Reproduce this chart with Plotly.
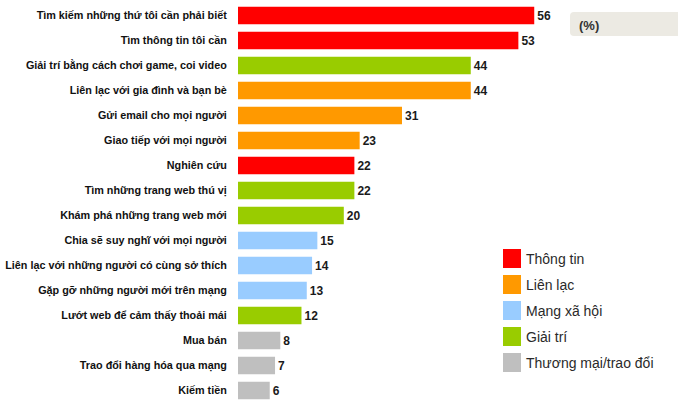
import plotly.graph_objects as go

# Activities, top to bottom, with share of respondents (%) and activity group
activities = [
    "Tìm kiếm những thứ tôi cần phải biết",
    "Tìm thông tin tôi cần",
    "Giải trí bằng cách chơi game, coi video",
    "Liên lạc với gia đình và bạn bè",
    "Gửi email cho mọi người",
    "Giao tiếp với mọi người",
    "Nghiên cứu",
    "Tìm những trang web thú vị",
    "Khám phá những trang web mới",
    "Chia sẽ suy nghĩ với mọi người",
    "Liên lạc với những người có cùng sở thích",
    "Gặp gỡ những người mới trên mạng",
    "Lướt web để cảm thấy thoải mái",
    "Mua bán",
    "Trao đổi hàng hóa qua mạng",
    "Kiếm tiền",
]
values = [56, 53, 44, 44, 31, 23, 22, 22, 20, 15, 14, 13, 12, 8, 7, 6]
groups = [
    "Thông tin", "Thông tin", "Giải trí", "Liên lạc", "Liên lạc", "Liên lạc",
    "Thông tin", "Giải trí", "Giải trí", "Mạng xã hội", "Mạng xã hội",
    "Mạng xã hội", "Giải trí", "Thương mại/trao đổi", "Thương mại/trao đổi",
    "Thương mại/trao đổi",
]

group_names = ["Thông tin", "Liên lạc", "Mạng xã hội", "Giải trí", "Thương mại/trao đổi"]
group_colors = {
    "Thông tin": "#FF0000",
    "Liên lạc": "#FF9900",
    "Mạng xã hội": "#99CCFF",
    "Giải trí": "#99CC00",
    "Thương mại/trao đổi": "#BFBFBF",
}

W, H = 678, 403
ML, MR, MT, MB = 238, 6, 3, 0
PW, PH = W - ML - MR, H - MT - MB


def px_x(p):
    return (p - ML) / PW


def px_y(p):
    return (H - MB - p) / PH


fig = go.Figure(
    go.Bar(
        x=values,
        y=activities,
        orientation="h",
        marker=dict(color=[group_colors[g] for g in groups], line=dict(width=0)),
        text=[str(v) for v in values],
        textposition="outside",
        cliponaxis=False,
        textfont=dict(family="Liberation Sans", size=12, color="#1a1a1a", weight="bold"),
        showlegend=False,
        hoverinfo="skip",
    )
)

shapes = []
annotations = []

# Legend: colour swatches with group names
leg_x0, leg_y0, sw, pitch = 503, 249, 18, 26
for i, name in enumerate(group_names):
    top = leg_y0 + i * pitch
    shapes.append(dict(
        type="rect", xref="paper", yref="paper",
        x0=px_x(leg_x0), x1=px_x(leg_x0 + sw),
        y0=px_y(top + sw + 1), y1=px_y(top),
        fillcolor=group_colors[name], line=dict(width=0),
    ))
    annotations.append(dict(
        xref="paper", yref="paper", x=px_x(leg_x0 + sw + 3), y=px_y(top + sw / 2 + 1),
        text=name, showarrow=False, xanchor="left", yanchor="middle",
        font=dict(family="Liberation Sans", size=14, color="#2a2a2a"),
    ))

# Unit box in the top-right corner
bx0, bx1, by0, by1, rr = 570, 700, 12, 36, 4
path = (
    f"M {px_x(bx0 + rr)},{px_y(by0)} L {px_x(bx1)},{px_y(by0)} "
    f"L {px_x(bx1)},{px_y(by1)} L {px_x(bx0 + rr)},{px_y(by1)} "
    f"Q {px_x(bx0)},{px_y(by1)} {px_x(bx0)},{px_y(by1 - rr)} "
    f"L {px_x(bx0)},{px_y(by0 + rr)} Q {px_x(bx0)},{px_y(by0)} {px_x(bx0 + rr)},{px_y(by0)} Z"
)
shapes.append(dict(type="path", xref="paper", yref="paper", path=path,
                   fillcolor="#ECEAE3", line=dict(width=0)))
annotations.append(dict(
    xref="paper", yref="paper", x=px_x(577), y=px_y(25),
    text="(%)", showarrow=False, xanchor="left", yanchor="middle",
    font=dict(family="Liberation Sans", size=13, color="#333333", weight="bold"),
))

fig.update_layout(
    width=W, height=H,
    margin=dict(l=ML, r=MR, t=MT, b=MB, pad=0),
    paper_bgcolor="white", plot_bgcolor="white",
    bargap=0.3,
    shapes=shapes,
    annotations=annotations,
    xaxis=dict(range=[0, PW / 5.29], visible=False, fixedrange=True),
    yaxis=dict(
        categoryorder="array", categoryarray=activities,
        range=[len(activities) - 0.5, -0.5],
        showgrid=False, zeroline=False, showline=False,
        ticks="outside", ticklen=8, tickcolor="rgba(0,0,0,0)",
        tickfont=dict(family="Liberation Sans", size=10.8, color="#111111", weight="bold"),
        fixedrange=True,
    ),
)

fig.write_html("out.html")
